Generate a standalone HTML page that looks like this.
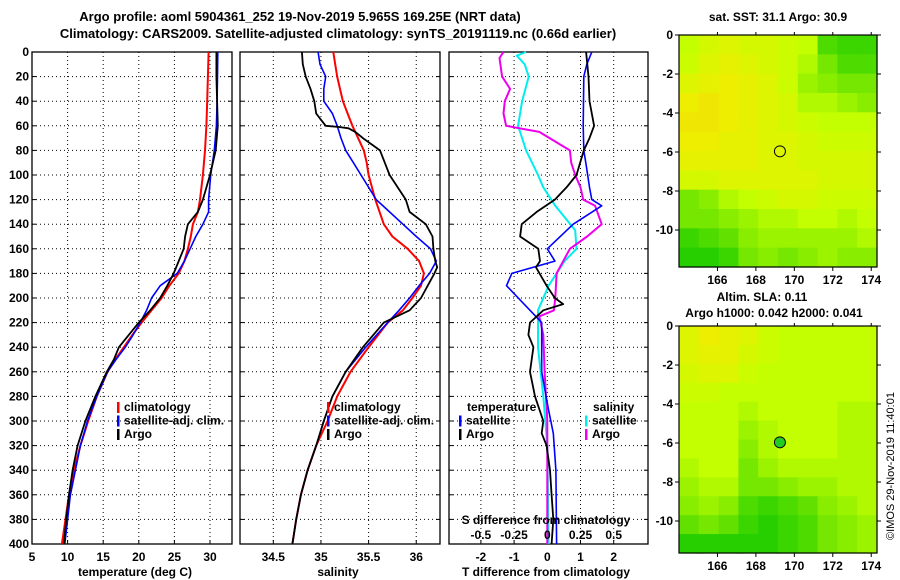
<!DOCTYPE html>
<html><head><meta charset="utf-8">
<style>
html,body{margin:0;padding:0;background:#fff;}
svg{display:block;font-family:"Liberation Sans",Arial,sans-serif;}
text{font-weight:bold;font-size:12px;fill:#000;}
</style></head>
<body>
<svg id="fig" width="900" height="580" viewBox="0 0 900 580" xmlns="http://www.w3.org/2000/svg">
<text x="300" y="21" text-anchor="middle" style="font-size:13px">Argo profile: aoml 5904361_252 19-Nov-2019 5.965S 169.25E (NRT data)</text>
<text x="338" y="38" text-anchor="middle" style="font-size:13px">Climatology: CARS2009. Satellite-adjusted climatology: synTS_20191119.nc (0.66d earlier)</text>
<g id="g1"></g>
<g id="g2"></g>
<g id="g3"></g>
<g id="m1"></g>
<g id="m2"></g>
<text x="778" y="21" text-anchor="middle">sat. SST: 31.1 Argo: 30.9</text>
<text x="762" y="301" text-anchor="middle">Altim. SLA: 0.11</text>
<text x="774" y="317" text-anchor="middle">Argo h1000: 0.042 h2000: 0.041</text>
<text transform="translate(894,466) rotate(-90)" text-anchor="middle" style="font-weight:normal;font-size:11px">©IMOS 29-Nov-2019 11:40:01</text>
</svg>
<script>
// ---------- data ----------
const tDepth=[0,20,40,60,80,100,120,130,140,150,160,170,180,190,200,210,220,230,240,250,260,280,300,320,340,360,380,400];
const tClim=[29.8,29.7,29.6,29.5,29.3,29.0,28.6,28.3,27.6,27.3,26.9,26.4,25.6,24.3,23.2,21.8,20.4,19.1,17.9,16.7,15.6,14.1,12.9,11.8,10.9,10.2,9.7,9.2];
const tSat=[31.1,31.05,31.0,30.9,30.6,30.1,29.8,29.8,29.0,28.0,27.2,26.4,25.4,23.0,21.8,21.1,20.2,19.2,18.1,16.8,15.6,14.1,12.8,11.8,11.1,10.4,10.0,9.6];
const tArgo=[30.9,30.9,31.0,31.1,30.8,30.0,29.0,28.3,26.9,26.5,26.3,25.6,24.9,24.0,23.0,21.6,20.0,18.6,17.2,16.5,15.5,13.9,12.5,11.4,10.7,10.2,9.8,9.5];
const sDepth=[0,10,20,30,40,50,60,70,80,90,100,120,140,150,160,170,180,190,200,210,220,240,260,280,300,320,340,360,380,400];
const sClim=[35.13,35.15,35.17,35.2,35.23,35.28,35.33,35.39,35.45,35.48,35.5,35.57,35.66,35.75,35.91,36.03,36.08,36.05,35.96,35.86,35.70,35.50,35.31,35.17,35.07,34.95,34.86,34.79,34.74,34.70];
const sSat=[34.97,34.99,35.05,35.03,35.03,35.12,35.17,35.21,35.26,35.34,35.42,35.58,35.86,36.0,36.15,36.21,36.14,36.03,35.93,35.82,35.70,35.47,35.26,35.12,35.03,34.95,34.86,34.79,34.74,34.70];
const aDepth=[0,10,20,30,40,50,55,60,61,62,65,70,80,90,100,120,130,140,150,160,170,175,180,190,200,210,220,240,260,280,300,320,340,360,380,400];
const sArgo=[34.8,34.81,34.84,34.89,34.93,34.95,35.0,35.05,35.19,35.29,35.36,35.44,35.62,35.67,35.72,35.89,35.93,36.1,36.17,36.18,36.2,36.22,36.19,36.12,36.05,35.93,35.66,35.44,35.26,35.12,35.03,34.95,34.86,34.79,34.74,34.70];
const dtDepth=[0,10,20,60,80,90,110,120,125,140,160,170,180,190,220,260,290,310,340,400];
const dtSat=[1.34,1.19,1.1,1.08,1.1,1.16,1.27,1.34,1.64,0.78,0.0,0.23,-1.07,-1.23,-0.17,-0.17,0.03,0.18,0.26,0.28];
const daDepth=[0,20,40,60,70,80,100,110,120,130,140,150,160,170,175,190,200,205,210,220,230,240,260,280,300,310,320,340,360,380,400];
const dtArgo=[1.17,1.24,1.27,1.41,1.27,1.1,0.88,0.58,0.23,-0.32,-0.77,-0.82,-0.27,-0.22,-0.34,-0.02,0.23,0.48,-0.12,-0.52,-0.57,-0.42,-0.52,-0.37,-0.12,-0.17,-0.02,0.08,0.13,0.18,0.13];
const dsDepth=[0,3,10,20,40,60,80,100,110,125,145,160,170,190,210,240,280,320,400];
const dsSat=[-0.16,-0.23,-0.17,-0.14,-0.19,-0.22,-0.16,-0.07,-0.03,0.06,0.21,0.22,0.13,0.01,-0.07,-0.07,-0.03,0.0,0.01];
const dmDepth=[0,5,20,30,40,50,60,63,65,80,90,100,110,120,125,140,150,160,180,200,210,215,230,260,300,400];
const dsArgo=[-0.33,-0.36,-0.34,-0.28,-0.32,-0.33,-0.31,-0.16,-0.06,0.17,0.18,0.21,0.25,0.27,0.36,0.41,0.3,0.17,0.07,0.06,0.05,-0.06,-0.03,-0.02,0.0,0.0];
const depthTicks=[0,20,40,60,80,100,120,140,160,180,200,220,240,260,280,300,320,340,360,380,400];
const tTicks=[5,10,15,20,25,30];
const sTicks=[34.5,35,35.5,36];
const dtTicks=[-2,-1,0,1,2];
const dsTicks=[-0.5,-0.25,0,0.25,0.5];
const dsTickLabels=["-0.5","-0.25","0","0.25","0.5"];
const lonTicks=[166,168,170,172,174];
const latTicks=[0,-2,-4,-6,-8,-10];
const argoLon=169.25, argoLat=-5.965;
const sstGrid=[
[.5,.6,.65,.6,.6,.55,.5,.2,.15,.15],
[.55,.65,.7,.65,.6,.55,.45,.3,.2,.2],
[.65,.7,.75,.7,.65,.55,.4,.35,.3,.3],
[.75,.8,.75,.7,.65,.6,.45,.45,.4,.35],
[.8,.8,.75,.7,.65,.6,.55,.5,.5,.5],
[.75,.75,.7,.7,.65,.65,.6,.55,.55,.55],
[.7,.7,.7,.7,.65,.65,.6,.6,.6,.6],
[.6,.6,.65,.65,.65,.65,.65,.6,.6,.6],
[.3,.35,.45,.5,.55,.6,.6,.55,.55,.55],
[.3,.3,.35,.4,.45,.45,.5,.5,.45,.5],
[.15,.2,.25,.35,.4,.4,.4,.4,.4,.45],
[.1,.1,.15,.3,.35,.3,.35,.4,.35,.35]];
const slaGrid=[
[.65,.75,.7,.65,.55,.5,.5,.5,.5,.5],
[.65,.7,.7,.6,.55,.5,.5,.5,.5,.5],
[.6,.65,.65,.55,.5,.5,.5,.5,.5,.5],
[.55,.55,.5,.5,.5,.5,.5,.5,.5,.5],
[.5,.5,.5,.45,.5,.5,.5,.5,.45,.45],
[.5,.5,.5,.4,.45,.5,.5,.5,.45,.45],
[.5,.5,.5,.35,.45,.5,.5,.5,.45,.45],
[.45,.5,.5,.3,.4,.45,.45,.45,.45,.45],
[.4,.45,.45,.3,.3,.35,.4,.4,.45,.45],
[.35,.4,.35,.2,.15,.2,.25,.35,.4,.45],
[.25,.3,.25,.15,.1,.15,.2,.3,.35,.4],
[.1,.1,.1,.1,.1,.15,.2,.3,.35,.4]];
// ---------- helpers ----------
const NS="http://www.w3.org/2000/svg";
function mk(parent,tag,attrs,txt){const e=document.createElementNS(NS,tag);for(const k in attrs)e.setAttribute(k,attrs[k]);if(txt!==undefined)e.textContent=txt;parent.appendChild(e);return e;}
const Y0=52,Y1=544;
const yD=d=>Y0+d*(Y1-Y0)/400;
function panel(g,x0,x1,xs,xticks,xlabels,grid){
  for(const d of depthTicks){const y=yD(d);
    if(d>0&&d<400){const l=mk(g,'line',{x1:x0,x2:x1,y1:y,y2:y,stroke:'#000','stroke-width':1,'stroke-dasharray':'1,3'});
    
    }
    const t1=mk(g,'line',{x1:x0,x2:x0+4,y1:y,y2:y,stroke:'#000'});
    
    
    const t2=mk(g,'line',{x1:x1-4,x2:x1,y1:y,y2:y,stroke:'#000'});
    
    
  }
  xticks.forEach((v,i)=>{const x=xs(v);
    if(grid&&x>x0+1&&x<x1-1){const l=mk(g,'line',{x1:x,x2:x,y1:Y0,y2:Y1,stroke:'#000','stroke-dasharray':'1,3'});
    
    }
    const t=mk(g,'line',{x1:x,x2:x,y1:Y1,y2:Y1-4,stroke:'#000'});
    
    
    if(xlabels){const tx=mk(g,'text',{x:x,y:561,'text-anchor':'middle'},xlabels[i]);
    
    }
  });
  const f=mk(g,'rect',{x:x0,y:Y0,width:x1-x0,height:Y1-Y0,fill:'none',stroke:'#000','stroke-width':1.3});
  
  
}
function line(g,xs,vals,deps,color,w,name){
  const pts=vals.map((v,i)=>xs(v).toFixed(1)+','+yD(deps[i]).toFixed(1)).join(' ');
  const p=mk(g,'polyline',{points:pts,fill:'none',stroke:color,'stroke-width':w,'stroke-linejoin':'round'});
  
  
}
function legend(g,x,y,items){
  items.forEach((it,i)=>{
    const yy=y+i*13.5;
    if(it[1]){const r=mk(g,'rect',{x:x,y:yy-9,width:2.5,height:11,fill:it[1]});
    
    }
    const t=mk(g,'text',{x:x+(it[1]?7:8),y:yy},it[0]);
    
    
  });
}
// depth labels
const g1=document.getElementById('g1');
for(const d of depthTicks){const t=mk(g1,'text',{x:29,y:yD(d)+4,'text-anchor':'end'},String(d));

}
// ---- temperature ----
const xT=v=>32+(v-5)*35.6/5;
panel(g1,32,232,xT,tTicks,tTicks.map(String),true);
line(g1,xT,tClim,tDepth,'#f00',2,'temperature-climatology-line');
line(g1,xT,tSat,tDepth,'#00f',1.6,'temperature-satellite-line');
line(g1,xT,tArgo,tDepth,'#000',1.8,'temperature-argo-line');
legend(g1,117,411,[['climatology','#f00'],['satellite-adj. clim.','#00f'],['Argo','#000']]);
const xl1=mk(g1,'text',{x:135,y:576,'text-anchor':'middle'},'temperature (deg C)');


// ---- salinity ----
const g2=document.getElementById('g2');
const xS=v=>273.3+(v-34.5)*95.3;
panel(g2,240,440,xS,sTicks,sTicks.map(String),true);
line(g2,xS,sClim,sDepth,'#f00',2,'salinity-climatology-line');
line(g2,xS,sSat,sDepth,'#00f',1.6,'salinity-satellite-line');
line(g2,xS,sArgo,aDepth,'#000',1.8,'salinity-argo-line');
legend(g2,327,411,[['climatology','#f00'],['satellite-adj. clim.','#00f'],['Argo','#000']]);
const xl2=mk(g2,'text',{x:338,y:576,'text-anchor':'middle'},'salinity');


// ---- differences ----
const g3=document.getElementById('g3');
const xDT=v=>547.3+v*33.2;
const xDS=v=>547.3+v*132.8;
panel(g3,449,648,xDT,dtTicks,dtTicks.map(String),true);
line(g3,xDS,dsSat,dsDepth,'#0ee',2,'salinity-diff-satellite-line');
line(g3,xDS,dsArgo,dmDepth,'#e0e',2,'salinity-diff-argo-line');
line(g3,xDT,dtSat,dtDepth,'#00f',1.6,'temperature-diff-satellite-line');
line(g3,xDT,dtArgo,daDepth,'#000',1.8,'temperature-diff-argo-line');
legend(g3,459,411,[['temperature',null],['satellite','#00f'],['Argo','#000']]);
legend(g3,585,411,[['salinity',null],['satellite','#0ee'],['Argo','#e0e']]);
const sdl=mk(g3,'text',{x:546,y:524,'text-anchor':'middle'},'S difference from climatology');


dsTicks.forEach((v,i)=>{const t=mk(g3,'text',{x:xDS(v),y:539,'text-anchor':'middle'},dsTickLabels[i]);

});
const xl3=mk(g3,'text',{x:546,y:576,'text-anchor':'middle'},'T difference from climatology');


// ---- maps ----
function cmap(v){
  const stops=[[0,[0,195,0]],[0.5,[195,255,0]],[0.75,[238,238,0]],[1,[250,200,20]]];
  for(let i=1;i<stops.length;i++){if(v<=stops[i][0]){const a=stops[i-1],b=stops[i],f=(v-a[0])/(b[0]-a[0]);
    return 'rgb('+a[1].map((c,k)=>Math.round(c+(b[1][k]-c)*f)).join(',')+')';}}
  return 'rgb(250,200,20)';
}
function map(id,top,bottom,grid,fillCircle){
  const g=document.getElementById(id);
  const L=679,R=877,lon0=164.0,lon1=174.3;
  const xm=v=>L+(v-lon0)*(R-L)/(lon1-lon0);
  const ym=v=>top-v*19.5;
  const rows=grid.length,cols=grid[0].length;
  const cw=(R-L)/cols,ch=(bottom-top)/rows;
  grid.forEach((row,r)=>row.forEach((v,c)=>{
    const cell=mk(g,'rect',{x:L+c*cw,y:top+r*ch,width:cw+0.6,height:ch+0.6,fill:cmap(v)});
    
    
  }));
  const fr=mk(g,'rect',{x:L,y:top,width:R-L,height:bottom-top,fill:'none',stroke:'#000','stroke-width':1.2});
  
  
  lonTicks.forEach(v=>{
    const t=mk(g,'line',{x1:xm(v),x2:xm(v),y1:bottom,y2:bottom+4,stroke:'#000'});
    
    
    const tt=mk(g,'line',{x1:xm(v),x2:xm(v),y1:top,y2:top-3,stroke:'#000'});
    
    
    const l=mk(g,'text',{x:xm(v),y:bottom+17,'text-anchor':'middle'},String(v));
    
    
  });
  latTicks.forEach(v=>{
    const t=mk(g,'line',{x1:L-4,x2:L,y1:ym(v),y2:ym(v),stroke:'#000'});
    
    
    const t2=mk(g,'line',{x1:R,x2:R+4,y1:ym(v),y2:ym(v),stroke:'#000'});
    
    
    const l=mk(g,'text',{x:673,y:ym(v)+4,'text-anchor':'end'},String(v));
    
    
  });
  const c=mk(g,'circle',{cx:xm(argoLon),cy:ym(argoLat),r:5.5,fill:fillCircle?'#2c2':'none',stroke:'#000','stroke-width':1});
  
  
}
map('m1',35,267,sstGrid,false);
map('m2',326,553,slaGrid,true);
</script>
</body></html>
